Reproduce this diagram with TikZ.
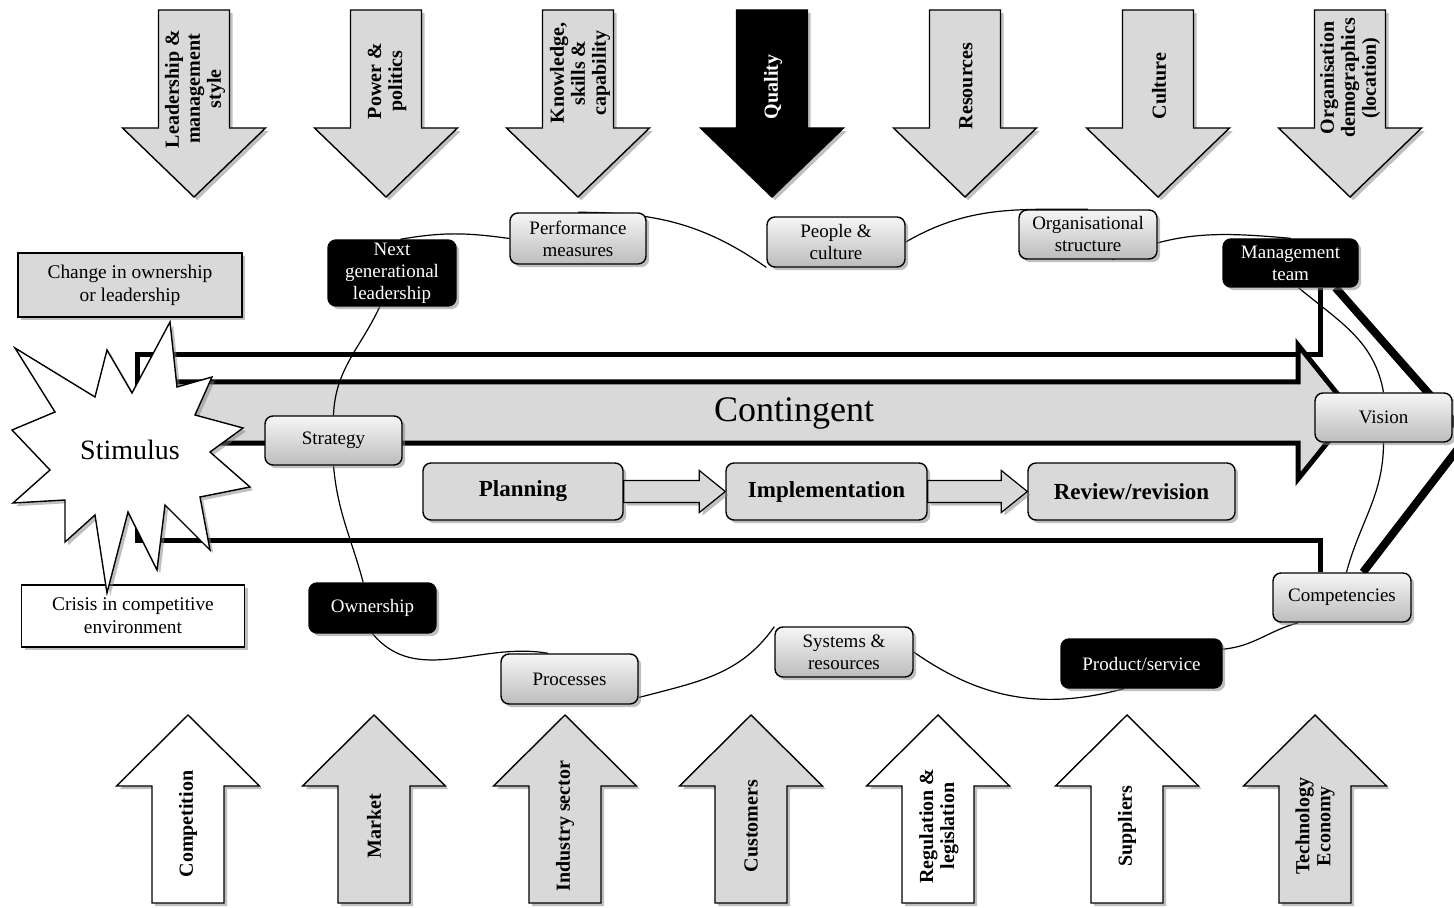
\documentclass[tikz,border=0pt]{standalone}
\usepackage{fontspec}
\setmainfont{Liberation Serif}
\usetikzlibrary{shadows,calc}
\definecolor{lightfill}{RGB}{217,217,217}
\definecolor{boxtop}{RGB}{246,246,246}
\definecolor{boxbot}{RGB}{188,188,188}
\pgfdeclarelayer{bg}
\pgfsetlayers{bg,main}

\tikzset{
  shad/.style={drop shadow={shadow xshift=1.6pt,shadow yshift=-1.6pt,fill=black!50,opacity=.5}},
  factor/.style={draw=black,line width=0.7pt,line join=miter,shad},
  factortext/.style={rotate=90,align=center,inner sep=0pt,
    font=\fontsize{10}{10.5}\selectfont\bfseries},
  gbox/.style={draw,line width=0.7pt,rounded corners=4pt,top color=boxtop,
    bottom color=boxbot,align=center,inner sep=1pt,
    font=\fontsize{9.5}{11}\selectfont,shad},
  kbox/.style={draw,line width=0.7pt,rounded corners=4pt,fill=black,text=white,
    align=center,inner sep=1pt,font=\fontsize{9.5}{11}\selectfont,shad},
  sqbox/.style={draw,line width=0.8pt,align=center,inner sep=1pt,
    font=\fontsize{9.7}{11.5}\selectfont,shad},
  pbox/.style={draw,line width=0.7pt,rounded corners=4pt,fill=lightfill,
    minimum height=28.5pt,inner sep=1pt,font=\fontsize{11.5}{13}\selectfont\bfseries,shad},
  heavy/.style={line width=2.5pt,line join=miter},
  loopline/.style={line width=0.6pt},
}

% downward factor arrow centred at x = #1, filled with #2
\newcommand\topfactor[2]{%
  \draw[factor,fill=#2] ({#1-35.5},-10) -- ({#1+35.5},-10) -- ({#1+35.5},-128)
    -- ({#1+71.5},-128) -- (#1,-197) -- ({#1-71.5},-128) -- ({#1-35.5},-128) -- cycle;}
% upward factor arrow centred at x = #1, filled with #2
\newcommand\botfactor[2]{%
  \draw[factor,fill=#2] ({#1-36},-903) -- ({#1+36},-903) -- ({#1+36},-786)
    -- ({#1+71.5},-786) -- (#1,-715) -- ({#1-71.5},-786) -- ({#1-36},-786) -- cycle;}

\begin{document}
\begin{tikzpicture}[x=0.5pt,y=0.5pt]
\useasboundingbox (0,0) rectangle (1454,-908);

% internal factors (top row)
\topfactor{194}{lightfill}
\topfactor{386}{lightfill}
\topfactor{578}{lightfill}
\topfactor{772}{black}
\topfactor{965}{lightfill}
\topfactor{1158}{lightfill}
\topfactor{1350}{lightfill}
\node[factortext] (t1) at (195,-89) {Leadership \&\\management\\style};
\node[factortext] (t2) at (387,-81) {Power \&\\politics};
\node[factortext] (t3) at (580,-73) {Knowledge,\\skills \&\\capability};
\node[factortext,text=white] (t4) at (773,-87) {Quality};
\node[factortext] (t5) at (966,-86) {Resources};
\node[factortext] (t6) at (1159,-86) {Culture};
\node[factortext] (t7) at (1350,-78) {Organisation\\demographics\\(location)};

% external factors (bottom row)
\botfactor{188}{white}
\botfactor{374}{lightfill}
\botfactor{565}{lightfill}
\botfactor{751}{lightfill}
\botfactor{938}{white}
\botfactor{1127}{white}
\botfactor{1315}{lightfill}
\node[factortext] (b1) at (188,-824) {Competition};
\node[factortext] (b2) at (374,-826) {Market};
\node[factortext] (b3) at (565,-826) {Industry sector};
\node[factortext] (b4) at (751,-826) {Customers};
\node[factortext] (b5) at (939,-826) {Regulation \&\\legislation};
\node[factortext] (b6) at (1127,-826) {Suppliers};
\node[factortext] (b7) at (1315,-826) {Technology\\Economy};

% triggers
\node[sqbox,fill=lightfill,minimum width=112pt,minimum height=32pt] (chg) at (130,-285)
  {Change in ownership\\or leadership};
\node[sqbox,fill=white,minimum width=111.5pt,minimum height=31pt] (crisis) at (133,-616)
  {Crisis in competitive\\environment};

% stimulus burst
\draw[fill=white,line width=0.7pt,line join=miter,shad]
  (15,-348) -- (95,-397) -- (107,-350) -- (132,-393) -- (170,-322) -- (177,-387)
  -- (212,-377) -- (195,-415) -- (243,-428) -- (210,-452) -- (250,-487) -- (200,-497)
  -- (210,-550) -- (165,-505) -- (157,-570) -- (128,-512) -- (107,-593) -- (95,-515)
  -- (65,-542) -- (65,-500) -- (13,-503) -- (50,-470) -- (12,-430) -- (55,-412) -- cycle;
\node[font=\fontsize{14}{16}\selectfont] (stim) at (130,-450) {Stimulus};

% change components around the loop
\node[kbox,minimum width=64pt,minimum height=33pt] (ngl) at (392,-273) {Next\\generational\\leadership};
\node[gbox,minimum width=68pt,minimum height=25.5pt] (pm) at (578,-238.5) {Performance\\measures};
\node[gbox,minimum width=69pt,minimum height=25pt] (pc) at (836,-242) {People \&\\culture};
\node[gbox,minimum width=69pt,minimum height=24.5pt] (os) at (1088,-234.5) {Organisational\\structure};
\node[kbox,minimum width=67.5pt,minimum height=24pt] (mt) at (1290.5,-263) {Management\\team};
\node[gbox,minimum width=68.5pt,minimum height=24.5pt] (vision) at (1383.5,-417.5) {Vision};
\node[gbox,minimum width=69pt,minimum height=24.5pt] (comp) at (1342,-597.5) {Competencies};
\node[kbox,minimum width=80.5pt,minimum height=24.5pt] (ps) at (1141.5,-663.5) {Product/service};
\node[gbox,minimum width=69pt,minimum height=25pt] (sr) at (844,-652) {Systems \&\\resources};
\node[gbox,minimum width=68.5pt,minimum height=25pt] (proc) at (569.5,-679) {Processes};
\node[kbox,minimum width=63.5pt,minimum height=25pt] (own) at (372.5,-608) {Ownership};
\node[gbox,minimum width=68.5pt,minimum height=24.5pt] (strat) at (333.5,-440.5) {Strategy};

% process steps
\node[pbox,minimum width=100pt] (plan) at (523,-491.5) {Planning};
\node[pbox,minimum width=100.5pt] (impl) at (826.5,-491.5) {Implementation};
\node[pbox,minimum width=103.5pt] (rev) at (1131.5,-491.5) {Review/revision};
\foreach \a/\b in {plan/impl,impl/rev}{
  \draw[fill=lightfill,line width=0.6pt,line join=miter,shad]
    ($(\a.east)+(0,11)$) -- ($(\b.west)+(-26,11)$) -- ($(\b.west)+(-26,21)$)
    -- (\b.west) -- ($(\b.west)+(-26,-21)$) -- ($(\b.west)+(-26,-11)$)
    -- ($(\a.east)+(0,-11)$) -- cycle;
}

\begin{pgfonlayer}{bg}
  % heavy frame linking management team and competencies
  \draw[heavy] ([xshift=14.75pt]mt.south) |- (137,-355) -- (137,-540)
    -| ([xshift=-11pt]comp.north);
  % contingent arrow
  \draw[heavy,fill=lightfill] (140,-382) -- (1298,-382) -- (1298,-345) -- (1352,-412)
    -- (1298,-479) -- (1298,-443) -- (140,-443) -- cycle;
  \node[font=\fontsize{18}{20}\selectfont] (cont) at (794,-413) {Contingent};
  % outer chevron
  \coordinate (apex) at (1467,-437);
  \draw[line width=4pt,line join=miter] ([xshift=22.5pt]mt.south) -- (apex)
    -- ([xshift=10.5pt]comp.north);
  % loop through the change components
  \draw[loopline] (ngl.76) to[out=10,in=172] (pm.west);
  \draw[loopline] (pm.north) to[out=0,in=145] (pc.200);
  \draw[loopline] (pc.east) to[out=30,in=180] (os.north);
  \draw[loopline] (os.-46) to[out=25,in=175] (mt.north);
  \draw[loopline] (mt.-72) to[out=-40,in=100] (vision.north);
  \draw[loopline] (vision.south) to[out=-90,in=75] (comp.80);
  \draw[loopline] (comp.-150) to[out=195,in=5] (ps.10);
  \draw[loopline] (ps.-125) to[out=195,in=-35] (sr.east);
  \draw[loopline] (sr.160) to[out=235,in=15] (proc.-15);
  \draw[loopline] (proc.130) to[out=170,in=-50] (own.south);
  \draw[loopline] (own.110) to[out=105,in=-85] (strat.south);
  \draw[loopline] (strat.north) to[out=88,in=-115] (ngl.-110);
\end{pgfonlayer}
\end{tikzpicture}
\end{document}
